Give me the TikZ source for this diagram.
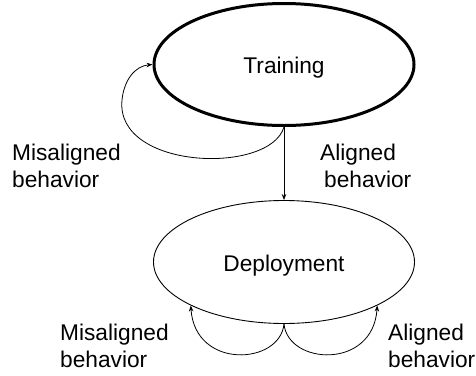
\documentclass[tikz,border=0pt]{standalone}
\usepackage{fontspec}
\setmainfont{Liberation Sans}
\usetikzlibrary{shapes.geometric,arrows.meta}
\begin{document}
\begin{tikzpicture}[x=1pt,y=-1pt,
  state/.style={ellipse,draw,inner sep=0pt,font=\fontsize{22.7}{27}\selectfont},
  lbl/.style={anchor=base west,inner sep=0pt,font=\fontsize{22.7}{27}\selectfont},
  arr/.style={line width=0.8pt,-{Stealth[length=6pt,width=4.5pt]}}]
\useasboundingbox (0,0) rectangle (476,375);
\node[state,line width=3pt,minimum width=260pt,minimum height=122pt] (T) at (284,64.5) {};
\node[lbl,anchor=base] (Tt) at (284,73) {Training};
\node[state,line width=0.9pt,minimum width=261pt,minimum height=123pt] (D) at (284,262) {};
\node[lbl,anchor=base] (Dt) at (284,271) {Deployment};
\draw[arr] (T.south) -- (D.north);
\coordinate (L) at (122,100);
\draw[arr] (T.south) .. controls (270,175) and (115,170) .. (L) .. controls (124,80) and (135,66) .. (T.west);
\draw[arr] (D.south) .. controls (280,365) and (195,370) .. (D.205);
\draw[arr] (D.south) .. controls (288,365) and (373,370) .. (D.335);
\node[lbl] (a1) at (12,160) {Misaligned};
\node[lbl] (a2) at (12,187) {behavior};
\node[lbl] (b1) at (320,160) {Aligned};
\node[lbl] (b2) at (324,187) {behavior};
\node[lbl] (c1) at (60,340) {Misaligned};
\node[lbl] (c2) at (60,367) {behavior};
\node[lbl] (d1) at (388,340) {Aligned};
\node[lbl] (d2) at (388,367) {behavior};
\end{tikzpicture}
\end{document}
